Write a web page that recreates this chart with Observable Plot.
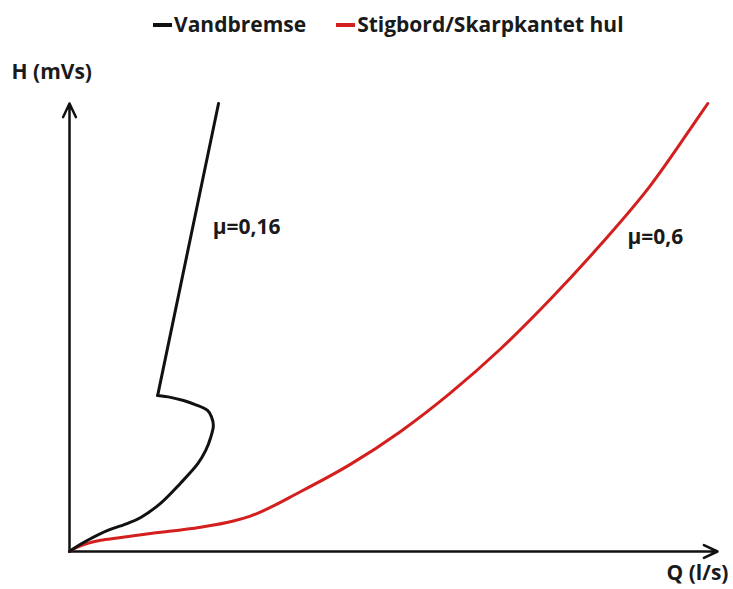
<!DOCTYPE html>
<html>
<head>
<meta charset="utf-8">
<script src="https://cdn.jsdelivr.net/npm/d3@7"></script>
<script src="https://cdn.jsdelivr.net/npm/@observablehq/plot@0.6"></script>
<style>
  html, body { margin: 0; padding: 0; background: #fff; }
  #legend { height: 45px; width: 733px; font-family: "Open Sans", sans-serif; font-weight: 700; font-size: 21px; color: #1a1a1a; display: flex; justify-content: flex-start; align-items: center; gap: 30px; padding-left: 153px; padding-top: 2px; box-sizing: border-box; }
  #legend .sw { display: inline-block; width: 19px; height: 3.5px; vertical-align: middle; margin-right: 2px; position: relative; top: -1px; }
</style>
</head>
<body>
<div id="legend"></div>
<div id="chart"></div>
<script>
// Series names and colours
const seriesNames = ["Vandbremse", "Stigbord/Skarpkantet hul"];
const seriesColors = ["#111111", "#d41f1f"];

// Vandbremse (mu = 0,16): Q and H values (arbitrary units)
const vandQ = [0, 0.9, 2.8, 5.9, 9.0, 11.0, 14.0, 17.1, 19.8, 21.0, 21.8, 22.2, 21.9, 21.3, 19.4, 17.6, 15.6, 13.6, 23.0];
const vandH = [0, 0.9, 2.5, 4.7, 6.3, 7.6, 10.7, 15.2, 19.6, 22.5, 25.5, 28.1, 30.1, 31.5, 32.8, 33.7, 34.4, 34.8, 100];

// Stigbord/Skarpkantet hul (mu = 0,6)
const stigQ = [0, 1.1, 2.8, 4.8, 7.4, 12.5, 20.2, 25.3, 27.9, 35.7, 43.4, 51.1, 58.8, 66.5, 74.2, 81.9, 89.7, 97.4, 98.5];
const stigH = [0, 0.9, 1.8, 2.5, 3.0, 4.0, 5.4, 6.8, 7.9, 13.4, 19.5, 26.8, 35.4, 45.2, 56.3, 68.4, 81.8, 97.7, 100];

// Annotation labels
const muLabels = ["μ=0,16", "μ=0,6"];
const muQ = [22.1, 86.1];
const muH = [72.3, 70.1];

// Axis titles and extents
const axisTitles = ["H (mVs)", "Q (l/s)"];
const qMax = 100;
const hMax = 100;

// Legend
const legend = document.getElementById("legend");
seriesNames.forEach((n, i) => {
  const s = document.createElement("span");
  s.innerHTML = `<span class="sw" style="background:${seriesColors[i]}"></span>${n}`;
  legend.appendChild(s);
});

const vand = vandQ.map((q, i) => ({Q: q, H: vandH[i], i}));
const cornerIdx = vand.length - 2;
const vandLow = vand.filter(d => d.i <= cornerIdx);
const vandTop = vand.filter(d => d.i >= cornerIdx);
const stig = stigQ.map((q, i) => ({Q: q, H: stigH[i]}));
const mu = muLabels.map((t, i) => ({t, Q: muQ[i], H: muH[i]}));
const axes = [
  {x1: 0, y1: 0, x2: qMax, y2: 0},
  {x1: 0, y1: 0, x2: 0, y2: hMax}
];

const chart = Plot.plot({
  width: 733,
  height: 544,
  marginLeft: 69,
  marginRight: 16,
  marginTop: 58,
  marginBottom: 38,
  x: {domain: [0, qMax], axis: null},
  y: {domain: [0, hMax], axis: null},
  style: {fontFamily: "Open Sans, sans-serif", color: "#1a1a1a", background: "#fff"},
  marks: [
    Plot.arrow(axes, {x1: "x1", y1: "y1", x2: "x2", y2: "y2", stroke: "#111", strokeWidth: 2.5, headLength: 9, headAngle: 50}),
    Plot.line(stig, {x: "Q", y: "H", stroke: seriesColors[1], strokeWidth: 3, curve: "monotone-x"}),
    Plot.line(vandLow, {x: "Q", y: "H", stroke: seriesColors[0], strokeWidth: 3, curve: "catmull-rom"}),
    Plot.line(vandTop, {x: "Q", y: "H", stroke: seriesColors[0], strokeWidth: 3, curve: "linear"}),
    Plot.text(mu, {x: "Q", y: "H", text: "t", textAnchor: "start", fontSize: 21, fontWeight: 700, fill: "#1a1a1a"}),
    Plot.text([axisTitles[0]], {frameAnchor: "top-left", dx: -58, dy: -39, textAnchor: "start", fontSize: 21, fontWeight: 700, fill: "#1a1a1a"}),
    Plot.text([axisTitles[1]], {frameAnchor: "bottom-right", dx: 11, dy: 28, textAnchor: "end", fontSize: 21, fontWeight: 700, fill: "#1a1a1a"})
  ]
});
document.getElementById("chart").appendChild(chart);
</script>
</body>
</html>
